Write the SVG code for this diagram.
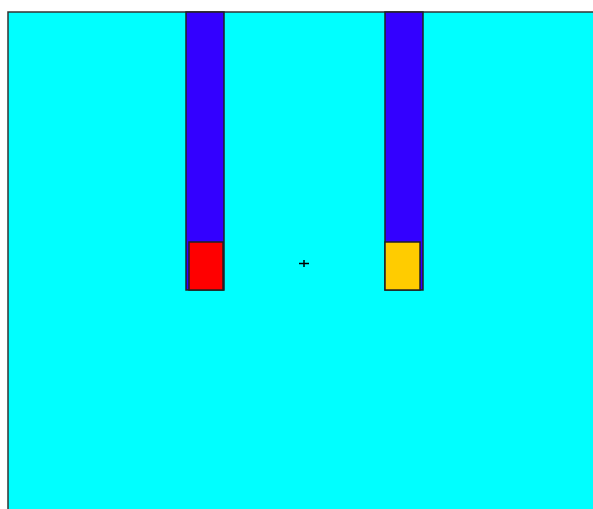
<svg xmlns="http://www.w3.org/2000/svg" width="593" height="509" viewBox="0 0 593 509">
<style>
.col{fill:#3300ff;stroke:#222;stroke-width:1.5}
.box{stroke:#222;stroke-width:1.5}
</style>
<rect x="0" y="0" width="593" height="509" fill="#fff"/>
<rect id="field" x="8" y="12" width="600" height="520" fill="#00ffff" stroke="#333" stroke-width="1.5"/>
<g id="left">
<rect class="col" x="186" y="12" width="38" height="278"/>
<rect class="box" x="189" y="242" width="34" height="48" fill="#ff0000"/>
</g>
<g id="right">
<rect class="col" x="385" y="12" width="38" height="278"/>
<rect class="box" x="385" y="242" width="35" height="48" fill="#ffcc00"/>
</g>
<g id="cross" stroke="#000" stroke-width="1.5">
<line x1="299" y1="263.5" x2="309" y2="263.5"/>
<line x1="304" y1="260" x2="304" y2="267"/>
</g>
</svg>
